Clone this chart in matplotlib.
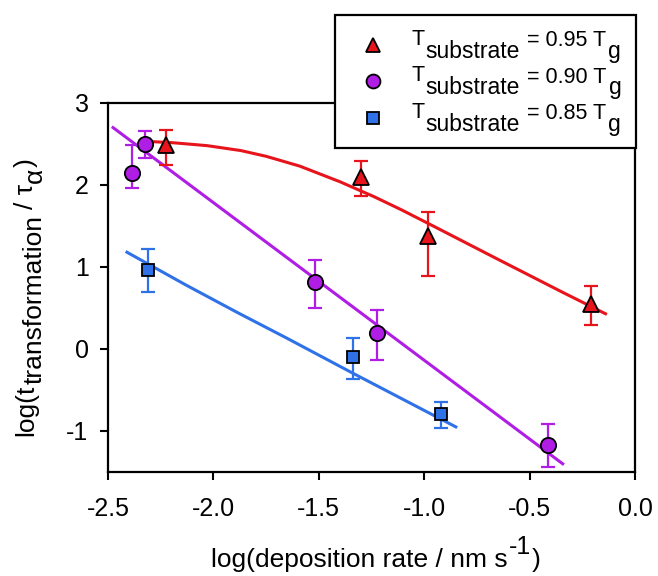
import matplotlib
matplotlib.use("Agg")
import matplotlib.pyplot as plt
from matplotlib.lines import Line2D
from matplotlib.patches import Rectangle

plt.rcParams['font.family'] = ['Liberation Sans', 'DejaVu Sans']

# T_substrate = 0.95 Tg
x95 = [-2.224, -1.298, -0.980, -0.210]
y95 = [2.49, 2.10, 1.38, 0.55]
hi95 = [2.67, 2.29, 1.67, 0.77]
lo95 = [2.24, 1.87, 0.89, 0.29]
fx95 = [-2.30, -2.19, -2.03, -1.87, -1.75, -1.59, -1.40, -1.24, -1.11, -0.98, -0.67, -0.35, -0.14]
fy95 = [2.53, 2.515, 2.48, 2.42, 2.35, 2.23, 2.04, 1.86, 1.70, 1.53, 1.12, 0.70, 0.43]

# T_substrate = 0.90 Tg
x90 = [-2.386, -2.324, -1.517, -1.222, -0.414]
y90 = [2.15, 2.50, 0.82, 0.195, -1.17]
hi90 = [2.49, 2.66, 1.09, 0.48, -0.91]
lo90 = [1.96, 2.33, 0.50, -0.13, -1.44]
fx90 = [-2.476, -0.343]
fy90 = [2.70, -1.40]

# T_substrate = 0.85 Tg
x85 = [-2.310, -1.336, -0.918]
y85 = [0.96, -0.10, -0.79]
hi85 = [1.22, 0.13, -0.65]
lo85 = [0.70, -0.37, -0.96]
fx85 = [-2.41, -2.13, -1.89, -1.65, -1.335, -0.85]
fy85 = [1.18, 0.78, 0.45, 0.13, -0.30, -0.95]

legend_values = ['0.95', '0.90', '0.85']

red = '#e8141c'
purple = '#b01ee6'
blue = '#2f72e8'

W, H = 658, 576
fig = plt.figure(figsize=(W / 100, H / 100), dpi=100)
ax = fig.add_axes([108 / W, 1 - 472 / H, (635 - 108) / W, (472 - 103) / H])


def series(x, y, hi, lo, fx, fy, color, marker, ms):
    ax.plot(fx, fy, color=color, lw=2.2, zorder=2)
    err = [[a - b for a, b in zip(y, lo)], [b - a for a, b in zip(y, hi)]]
    ax.errorbar(x, y, yerr=err, fmt='none', ecolor=color, elinewidth=1.6,
                capsize=5, capthick=1.6, zorder=3)
    ax.plot(x, y, ls='none', marker=marker, ms=ms, mfc=color, mec='black',
            mew=1.3, zorder=4)


series(x95, y95, hi95, lo95, fx95, fy95, red, '^', 11)
series(x90, y90, hi90, lo90, fx90, fy90, purple, 'o', 11)
series(x85, y85, hi85, lo85, fx85, fy85, blue, 's', 9)

ax.set_xlim(-2.5, 0.0)
ax.set_ylim(-1.5, 3.0)
ax.set_xticks([-2.5, -2.0, -1.5, -1.0, -0.5, 0.0])
ax.set_xticklabels(['-2.5', '-2.0', '-1.5', '-1.0', '-0.5', '0.0'])
ax.set_yticks([-1, 0, 1, 2, 3])
ax.set_yticklabels(['-1', '0', '1', '2', '3'])
ax.tick_params(direction='out', length=6, width=1.5, labelsize=18,
               top=False, right=False)
ax.tick_params(axis='x', pad=12)
ax.tick_params(axis='y', pad=8)
for s in ax.spines.values():
    s.set_linewidth(1.6)


def rich(pieces, u0, base, center=False):
    # pieces: (text, size, shift px, gap px); coordinates in top-left pixels
    arts = [fig.text(0, 0, p[0], fontsize=p[1], ha='left', va='baseline', zorder=5)
            for p in pieces]
    r = fig.canvas.get_renderer()
    lens = [t.get_window_extent(r).width for t in arts]
    total = sum(lens) + sum(p[3] for p in pieces)
    u = u0 - total / 2 if center else u0
    for t, p, ln in zip(arts, pieces, lens):
        u += p[3]
        t.set_position((u / W, 1 - (base - p[2]) / H))
        u += ln


# axis labels with full-size sub/superscripts
rich([('log(deposition rate / nm s', 19, 0, 0), ('-1', 18, 13, 1), (')', 19, 0, 1)],
     376, 567, center=True)

# y label runs bottom-to-top
ylab = [('log(t', 19, 0, 0), ('transformation', 19, -9, 0), ('/ τ', 19, 0, 6),
        ('α', 19, -9, 1), (')', 19, 0, 1)]
arts = [fig.text(0, 0, p[0], fontsize=p[1], ha='left', va='baseline',
                 rotation=90, rotation_mode='anchor') for p in ylab]
rend = fig.canvas.get_renderer()
lens = [t.get_window_extent(rend).height for t in arts]
total = sum(lens) + sum(p[3] for p in ylab)
v = 297 + total / 2
for t, p, ln in zip(arts, ylab, lens):
    v -= p[3]
    t.set_position(((33 - p[2]) / W, 1 - v / H))
    v -= ln

# legend box
fig.add_artist(Rectangle((335 / W, 1 - 148 / H), (636 - 335) / W, (148 - 15) / H,
                         transform=fig.transFigure, facecolor='white',
                         edgecolor='black', lw=1.6, zorder=4))
rows = [(red, '^', 10), (purple, 'o', 10), (blue, 's', 8)]
for i, ((c, m, ms), val) in enumerate(zip(rows, legend_values)):
    yb = 45 + 36.3 * i
    fig.add_artist(Line2D([373 / W], [1 - yb / H], transform=fig.transFigure,
                          ls='none', marker=m, ms=ms, mfc=c, mec='black',
                          mew=1.3, zorder=5))
    rich([('T', 15.5, 0, 0), ('substrate', 16.5, -13, 1),
          ('= ' + val + ' T', 15.5, -1.5, 7), ('g', 16.5, -13, 2)], 411.7, yb)

fig.savefig('out.png', dpi=100)
